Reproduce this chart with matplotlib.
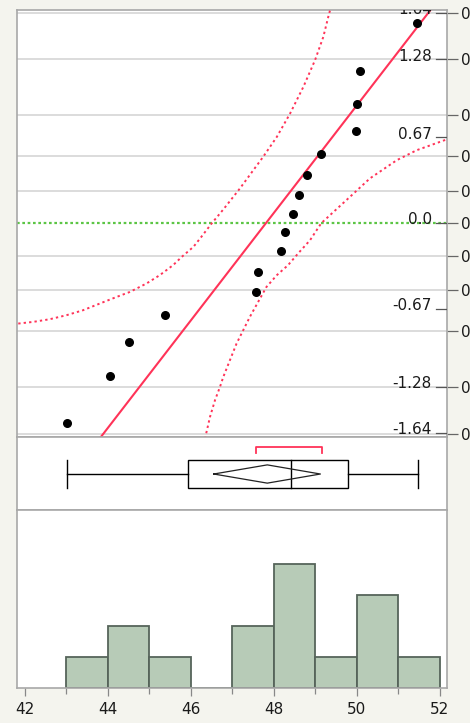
import numpy as np
import matplotlib
matplotlib.use('Agg')
import matplotlib.pyplot as plt

# ---- data ----
# ordered observations and their normal quantiles
obs_x = [43.01, 44.05, 44.50, 45.37, 47.57, 47.61, 48.17, 48.27,
         48.46, 48.60, 48.80, 49.13, 49.98, 50.00, 50.07, 51.45]
obs_q = [-1.56, -1.19, -0.93, -0.72, -0.54, -0.38, -0.22, -0.07,
         0.07, 0.22, 0.38, 0.54, 0.72, 0.93, 1.19, 1.56]

# fitted normal line (two points on it)
fit_x = [43.83, 51.76]
fit_y = [-1.67, 1.66]

# confidence band curves (dotted)
band_lo_x = [41.84, 42.20, 42.60, 43.00, 43.40, 43.81, 44.21, 44.53,
             44.93, 45.25, 45.57, 45.78, 46.06, 46.22, 46.50, 46.78,
             47.18, 47.74, 48.07, 48.39, 48.71, 48.99, 49.19, 49.33, 49.36]
band_lo_y = [-0.784, -0.771, -0.750, -0.719, -0.680, -0.627, -0.576, -0.537,
             -0.471, -0.406, -0.328, -0.263, -0.185, -0.120, -0.002, 0.107,
             0.271, 0.518, 0.674, 0.857, 1.065, 1.273, 1.455, 1.638, 1.67]
band_hi_x = [46.34, 46.46, 46.58, 46.70, 46.78, 46.94, 47.10, 47.26,
             47.42, 47.62, 47.82, 48.07, 48.34, 48.60, 48.87, 49.14,
             49.83, 50.31, 50.96, 51.44, 52.00, 52.17]
band_hi_y = [-1.682, -1.513, -1.383, -1.279, -1.201, -1.070, -0.940, -0.836,
             -0.732, -0.615, -0.498, -0.406, -0.328, -0.230, -0.133, 0.0,
             0.205, 0.349, 0.492, 0.570, 0.635, 0.655]

# quantile labels (inside) and probability labels (outside right)
q_ticks = [-1.64, -1.28, -0.67, 0.0, 0.67, 1.28, 1.64]
q_labels = ['-1.64', '-1.28', '-0.67', '0.0', '0.67', '1.28', '1.64']
p_labels = ['0.05', '0.1', '0.2', '0.3', '0.4', '0.5', '0.6', '0.7', '0.8', '0.9', '0.95']
p_pos = [-1.645, -1.2816, -0.8416, -0.5244, -0.2533, 0.0,
         0.2533, 0.5244, 0.8416, 1.2816, 1.645]

# box plot summary
whisk_lo, whisk_hi = 43.02, 51.46
q1, med, q3 = 45.93, 48.40, 49.79
mean_val, ci_lo, ci_hi = 47.84, 46.55, 49.12
short_lo, short_hi = 47.57, 49.15

# histogram
bin_left = [43, 44, 45, 46, 47, 48, 49, 50, 51]
counts = [1, 2, 1, 0, 2, 4, 1, 3, 1]

# ---- styling ----
BG = '#f4f4ee'
FRAME = '#a8a8a8'
GRID = '#d6d6d6'
RED = '#ff3358'
XLIM = (41.81, 52.17)

W, H = 470, 723
fig = plt.figure(figsize=(W / 100, H / 100), dpi=100, facecolor=BG)


def px_axes(x0, y0, x1, y1):
    return fig.add_axes([x0 / W, 1 - y1 / H, (x1 - x0) / W, (y1 - y0) / H])


# ---- normal quantile panel ----
ax = px_axes(17, 10, 447, 437)
ax.set_xlim(XLIM)
ax.set_ylim(-1.67, 1.665)
for p in p_pos:
    if p == 0.0:
        continue
    ax.axhline(p, color=GRID, lw=1.2, zorder=1)
ax.axhline(0.0, color='#5cc545', lw=1.6, ls=(0, (1.2, 1.2)), zorder=2)
ax.plot(band_lo_x, band_lo_y, color=RED, lw=1.4, ls=(0, (1.2, 1.6)), zorder=3)
ax.plot(band_hi_x, band_hi_y, color=RED, lw=1.4, ls=(0, (1.2, 1.6)), zorder=3)
ax.plot(fit_x, fit_y, color=RED, lw=1.5, zorder=4)
ax.scatter(obs_x, obs_q, s=30, color='black', zorder=5)

# inside quantile labels with short ticks (label sits a bit above its tick)
for q, lab in zip(q_ticks, q_labels):
    ax.text(0.965, q + 0.025, lab, transform=ax.get_yaxis_transform(), ha='right',
            va='center', fontsize=11, color='#1a1a1a', clip_on=True, zorder=6)
    ax.plot([0.975, 1.0], [q, q], transform=ax.get_yaxis_transform(),
            color='#555555', lw=0.9, clip_on=True, zorder=6)

ax.set_xticks([])
ax.yaxis.tick_right()
ax.set_yticks(p_pos)
ax.set_yticklabels(p_labels, fontsize=11, color='#1a1a1a')
ax.tick_params(axis='y', direction='out', length=8, width=0.9, color='#666666', pad=2)
for s in ax.spines.values():
    s.set_color(FRAME)
    s.set_linewidth(1.2)

# ---- box plot panel ----
bx = px_axes(17, 437, 447, 510)
bx.set_xlim(XLIM)
bx.set_ylim(0, 1)
yc, hb = 0.493, 0.192
bx.plot([whisk_lo, q1], [yc, yc], color='black', lw=1.0)
bx.plot([q3, whisk_hi], [yc, yc], color='black', lw=1.0)
for w in (whisk_lo, whisk_hi):
    bx.plot([w, w], [yc - hb, yc + hb], color='black', lw=1.0)
bx.add_patch(plt.Rectangle((q1, yc - hb), q3 - q1, 2 * hb, fill=False,
                           edgecolor='black', lw=1.0))
bx.plot([med, med], [yc - hb, yc + hb], color='black', lw=1.0)
dh = 0.125
bx.plot([ci_lo, mean_val, ci_hi, mean_val, ci_lo],
        [yc, yc + dh, yc, yc - dh, yc], color='#222222', lw=0.9)
bx.plot([short_lo, short_lo, short_hi, short_hi], [0.78, 0.863, 0.863, 0.78],
        color=RED, lw=1.3)
bx.set_xticks([])
bx.set_yticks([])
for s in bx.spines.values():
    s.set_color(FRAME)
    s.set_linewidth(1.2)

# ---- histogram panel ----
hx = px_axes(17, 510, 447, 688)
hx.set_xlim(XLIM)
hx.set_ylim(0, 5.74)
hx.bar(bin_left, counts, width=1.0, align='edge', color='#b7cbb7',
       edgecolor='#56645a', lw=1.3)
hx.set_yticks([])
hx.set_xticks(range(42, 53, 2))
hx.set_xticks(range(43, 53, 2), minor=True)
hx.tick_params(axis='x', which='major', length=6, width=0.9, color='#888888',
               labelsize=11, labelcolor='#1a1a1a', pad=4)
hx.tick_params(axis='x', which='minor', length=4, width=0.9, color='#888888')
for s in hx.spines.values():
    s.set_color(FRAME)
    s.set_linewidth(1.2)

fig.savefig('out.png', dpi=100, facecolor=BG)
